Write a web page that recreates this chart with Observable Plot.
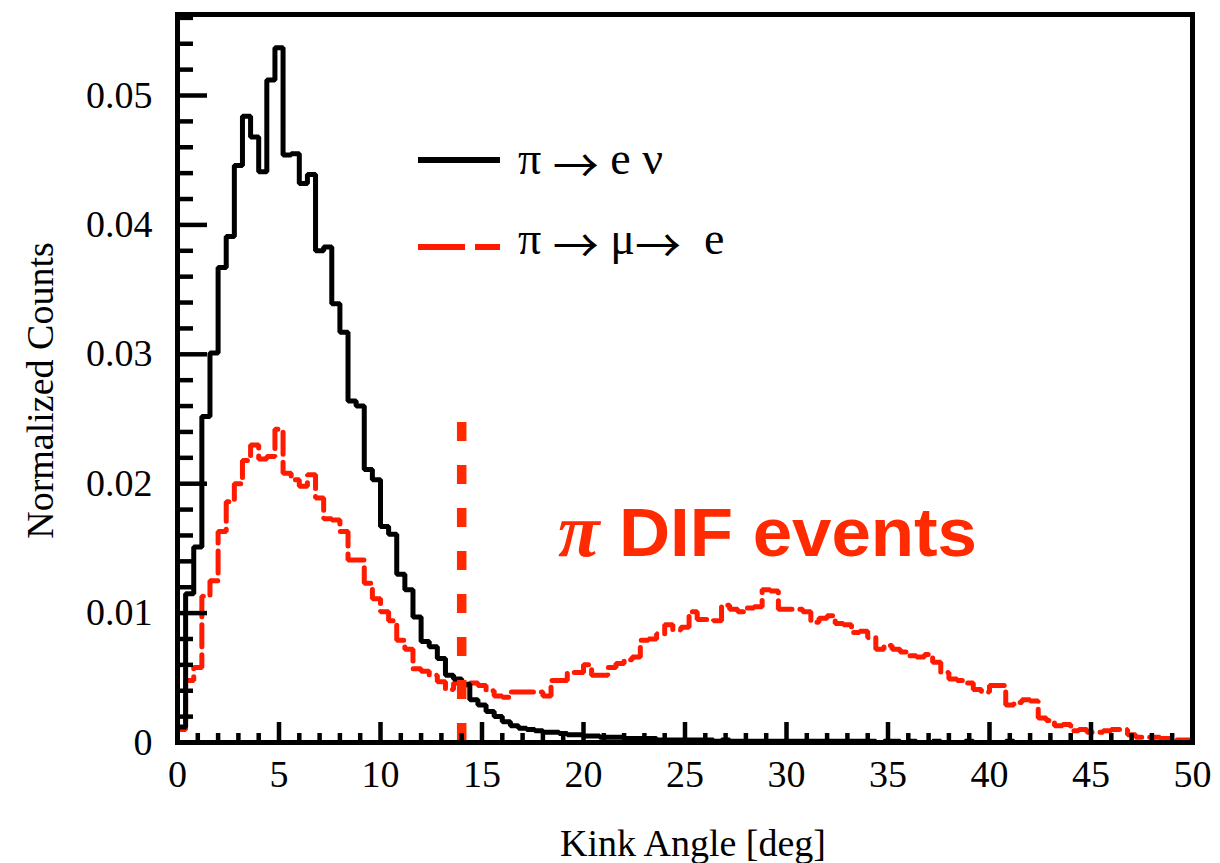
<!DOCTYPE html>
<html>
<head>
<meta charset="utf-8">
<script src="https://cdn.jsdelivr.net/npm/d3@7"></script>
<script src="https://cdn.jsdelivr.net/npm/@observablehq/plot@0.6"></script>
<style>
  html, body { margin: 0; padding: 0; background: #fff; }
  #wrap { position: relative; width: 1220px; height: 863px; }
  #overlay { position: absolute; left: 0; top: 0; pointer-events: none; }
</style>
</head>
<body>
<div id="wrap"></div>
<script>
// ---- data ----
const binWidth = 0.4; // deg
const piEnuCounts = [
  0.0012, 0.0115, 0.0151, 0.0252, 0.0301, 0.0367, 0.0391, 0.0446, 0.0484, 0.0468,
  0.0441, 0.0512, 0.0537, 0.0454, 0.0455, 0.0432, 0.0439, 0.0380, 0.0383, 0.0339,
  0.0317, 0.0264, 0.0260, 0.0211, 0.0203, 0.0167, 0.0161, 0.0130, 0.0118, 0.0097,
  0.0078, 0.0074, 0.0065, 0.0052, 0.0049, 0.0045, 0.0033, 0.0029, 0.0024, 0.0020,
  0.0016, 0.0013, 0.0011, 0.0010, 0.0009, 0.0008, 0.0008, 0.0007, 0.0006, 0.0006,
  0.0005, 0.0005, 0.0004, 0.0004, 0.0004, 0.0003, 0.0003, 0.0003, 0.0003, 0.0002,
  0.0002, 0.0002, 0.0002, 0.0002, 0.0002, 0.0002, 0.0001, 0.0002, 0.0001, 0.0001,
  0.0001, 0.0001, 0.0001, 0.0001, 0.0001, 0.0001, 0.0001, 0.0001, 0.0001, 0.0001,
  0.0001, 0.0001, 0.0001, 0.0001, 0.0001, 0.0001, 0.0000, 0.0001, 0.0001, 0.0000,
  0.0001, 0.0000, 0.0000, 0.0001, 0.0000, 0.0000, 0.0000, 0.0001, 0.0000, 0.0000,
  0.0000, 0.0000, 0.0001, 0.0000, 0.0000, 0.0000, 0.0000, 0.0000, 0.0000, 0.0000,
  0.0000, 0.0000, 0.0000, 0.0000, 0.0000, 0.0000, 0.0000, 0.0000, 0.0000, 0.0000,
  0.0000, 0.0000, 0.0000, 0.0000, 0.0000
];
const piMuECounts = [
  0.0010, 0.0048, 0.0058, 0.0113, 0.0125, 0.0163, 0.0186, 0.0200, 0.0218, 0.0230,
  0.0219, 0.0221, 0.0242, 0.0208, 0.0203, 0.0198, 0.0207, 0.0189, 0.0173, 0.0172,
  0.0163, 0.0141, 0.0141, 0.0123, 0.0111, 0.0101, 0.0094, 0.0079, 0.0072, 0.0057,
  0.0055, 0.0052, 0.0047, 0.0041, 0.0046, 0.0044, 0.0046, 0.0044, 0.0040, 0.0036,
  0.0035, 0.0039, 0.0039, 0.0039, 0.0039, 0.0036, 0.0048, 0.0048, 0.0054, 0.0054,
  0.0060, 0.0052, 0.0052, 0.0058, 0.0061, 0.0064, 0.0066, 0.0079, 0.0080, 0.0084,
  0.0091, 0.0087, 0.0089, 0.0101, 0.0095, 0.0095, 0.0094, 0.0106, 0.0103, 0.0101,
  0.0104, 0.0105, 0.0118, 0.0117, 0.0103, 0.0103, 0.0103, 0.0101, 0.0093, 0.0096,
  0.0098, 0.0092, 0.0091, 0.0085, 0.0086, 0.0081, 0.0072, 0.0075, 0.0072, 0.0070,
  0.0067, 0.0066, 0.0068, 0.0062, 0.0054, 0.0049, 0.0048, 0.0046, 0.0041, 0.0039,
  0.0044, 0.0044, 0.0029, 0.0031, 0.0033, 0.0032, 0.0019, 0.0017, 0.0013, 0.0014,
  0.0009, 0.0010, 0.0008, 0.0008, 0.0009, 0.0010, 0.0010, 0.0006, 0.0004, 0.0004,
  0.0004, 0.0003, 0.0003, 0.0002, 0.0002
];
const xMajorTicks = [0, 5, 10, 15, 20, 25, 30, 35, 40, 45, 50];
const xMinorTicks = [1,2,3,4,6,7,8,9,11,12,13,14,16,17,18,19,21,22,23,24,26,27,28,29,31,32,33,34,36,37,38,39,41,42,43,44,46,47,48,49];
const yMajorTicks = [0, 0.01, 0.02, 0.03, 0.04, 0.05];
const yMinorTicks = [0.002,0.004,0.006,0.008,0.012,0.014,0.016,0.018,0.022,0.024,0.026,0.028,0.032,0.034,0.036,0.038,0.042,0.044,0.046,0.048,0.052,0.054,0.056];
const xDomain = [0, 50];
const yDomain = [0, 0.05626];
const cutAngle = 14;
const cutTop = 0.0263;
const xTitle = "Kink Angle [deg]";
const yTitle = "Normalized Counts";
const legendLabels = ["π → e ν", "π → μ→  e"];
const annotationPi = "π";
const annotationText = "DIF events";

// ---- styles ----
const RED = "#ff1a00";
const CUT_RED = "#ff2a00";
const SERIF = "'Liberation Serif', 'Times New Roman', serif";

function steps(counts) {
  const pts = [{x: 0, y: 0}];
  counts.forEach((c, i) => pts.push({x: i * binWidth, y: c}));
  pts.push({x: counts.length * binWidth, y: counts[counts.length - 1]});
  return pts;
}

const chart = Plot.plot({
  width: 1220,
  height: 863,
  marginLeft: 177,
  marginRight: 28,
  marginTop: 14,
  marginBottom: 121,
  x: {domain: xDomain},
  y: {domain: yDomain},
  style: {fontFamily: SERIF, fontSize: "38px", color: "black", background: "white"},
  marks: [
    Plot.lineY(steps(piMuECounts), {x: "x", y: "y", curve: "step-after", stroke: RED, strokeWidth: 5, strokeDasharray: "22,8", strokeLinejoin: "miter"}),
    Plot.lineY(steps(piEnuCounts), {x: "x", y: "y", curve: "step-after", stroke: "black", strokeWidth: 5, strokeLinejoin: "miter"}),
    Plot.ruleX([cutAngle], {x: d => d, y1: 0, y2: cutTop, stroke: CUT_RED, strokeWidth: 9.5, strokeDasharray: "19,24"}),
    Plot.axisX(xMinorTicks, {tickSize: -9, strokeWidth: 4.5, tickFormat: () => "", label: null}),
    Plot.axisX(xMajorTicks, {tickSize: -20, strokeWidth: 4.5, tickFormat: () => "", label: null}),
    Plot.axisX(xMajorTicks, {tickSize: 0, tickPadding: 18, tickFormat: d => String(d), label: null, fontSize: 38}),
    Plot.axisY(yMinorTicks, {tickSize: -16, strokeWidth: 4.5, tickFormat: () => "", label: null}),
    Plot.axisY(yMajorTicks, {tickSize: -30, strokeWidth: 4.5, tickFormat: () => "", label: null}),
    Plot.axisY(yMajorTicks, {tickSize: 0, tickPadding: 25, tickFormat: d => d === 0 ? "0" : d.toFixed(2), label: null, fontSize: 38}),
    Plot.text([yTitle], {text: d => d, frameAnchor: "left", textAnchor: "middle", lineAnchor: "middle", rotate: -90, dx: -137, dy: 12, fontSize: 38}),
    Plot.text([xTitle], {text: d => d, frameAnchor: "bottom", textAnchor: "middle", lineAnchor: "middle", dx: 8, dy: 101, fontSize: 38}),
    Plot.frame({stroke: "black", strokeWidth: 5})
  ]
});

const wrap = document.getElementById("wrap");
wrap.appendChild(chart);

// ---- legend & annotation overlay ----
const svgNS = "http://www.w3.org/2000/svg";
const ov = document.createElementNS(svgNS, "svg");
ov.setAttribute("id", "overlay");
ov.setAttribute("width", 1220);
ov.setAttribute("height", 863);
function el(parent, name, attrs, text) {
  const e = document.createElementNS(svgNS, name);
  for (const k in attrs) e.setAttribute(k, attrs[k]);
  if (text != null) e.textContent = text;
  parent.appendChild(e);
  return e;
}
const legendStyles = [
  {stroke: "black", dash: null, y: 160, base: 174},
  {stroke: RED, dash: "47,10", y: 247, base: 254}
];
legendLabels.forEach((lab, i) => {
  const s = legendStyles[i];
  const a = {x1: 418, x2: 500, y1: s.y, y2: s.y, stroke: s.stroke, "stroke-width": 6};
  if (s.dash) a["stroke-dasharray"] = s.dash;
  el(ov, "line", a);
  const t = el(ov, "text", {x: 518, y: s.base, "font-family": SERIF, "font-size": 46, fill: "black", style: "white-space:pre"});
  // full-width thin arrows, close to the symbol-font arrows of the original
  const parts = lab.split("→");
  let shift = 0;
  parts.forEach((p, j) => {
    if (p.length) {
      el(t, "tspan", shift ? {dy: -shift} : {}, p);
      shift = 0;
    }
    if (j < parts.length - 1) {
      el(t, "tspan", {"font-family": "'Noto Sans CJK JP', 'DejaVu Sans', sans-serif", "font-size": 46, dy: 8 - shift}, "→");
      shift = 8;
    }
  });
});
el(ov, "text", {x: 558, y: 556, "font-family": SERIF, "font-style": "italic", "font-weight": "bold", "font-size": 76, fill: CUT_RED}, annotationPi);
el(ov, "text", {x: 619, y: 556, "font-family": "'Liberation Sans', Arial, sans-serif", "font-weight": "bold", "font-size": 69, fill: CUT_RED, textLength: 358, lengthAdjust: "spacingAndGlyphs"}, annotationText);
wrap.appendChild(ov);
</script>
</body>
</html>
